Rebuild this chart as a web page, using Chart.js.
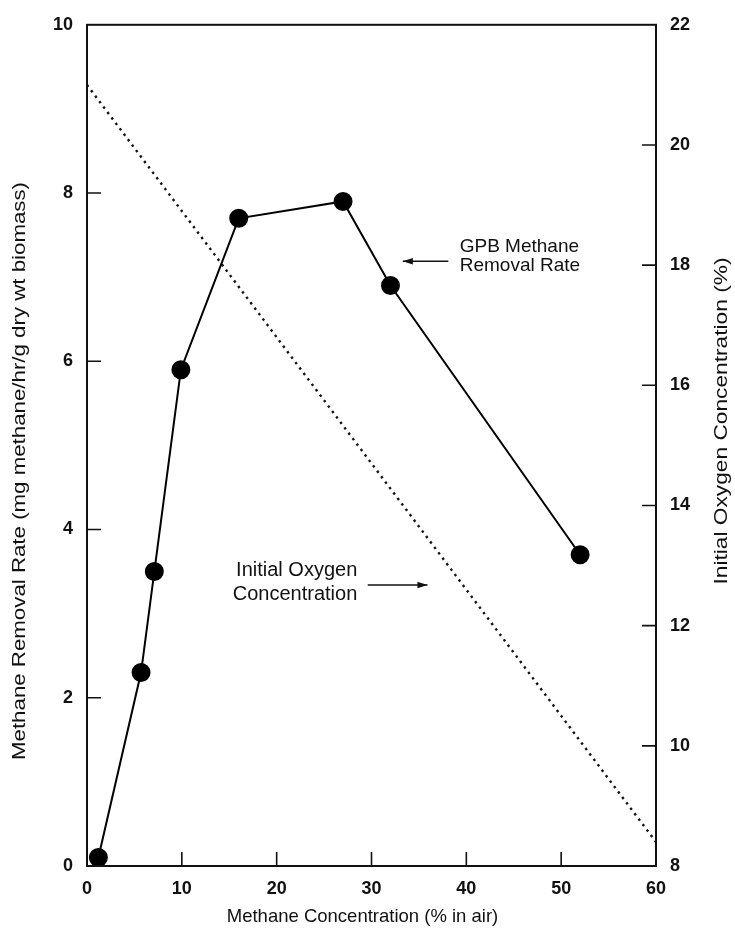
<!DOCTYPE html>
<html><head><meta charset="utf-8">
<script src="https://cdn.jsdelivr.net/npm/chart.js@4/dist/chart.umd.min.js"></script>
<style>html,body{margin:0;padding:0;background:#fff}#wrap{width:735px;height:936px}</style>
</head><body><div id="wrap"><canvas id="c" width="735" height="936"></canvas></div>
<script>
const methaneConc = [1.2, 5.7, 7.1, 9.9, 16.0, 27.0, 32.0, 52.0];
const removalRate = [0.1, 2.3, 3.5, 5.9, 7.7, 7.9, 6.9, 3.7];
const oxygenX = [0, 60];
const oxygenY = [21.0, 8.4];
const xTicks = [0, 10, 20, 30, 40, 50, 60];
const yTicks = [0, 2, 4, 6, 8, 10];
const y2Ticks = [8, 10, 12, 14, 16, 18, 20, 22];
const xTitle = 'Methane Concentration (% in air)';
const yTitle = 'Methane Removal Rate (mg methane/hr/g dry wt biomass)';
const y2Title = 'Initial Oxygen Concentration (%)';
const gpbLabel = ["GPB Methane", "Removal Rate"];
const oxyLabel = ["Initial Oxygen", "Concentration"];

const FONT = "'Liberation Sans', Arial, Helvetica, sans-serif";

const framePlugin = {
  id: 'frame',
  afterDraw(chart) {
    const {ctx, chartArea: a, scales} = chart;
    ctx.save();
    ctx.strokeStyle = '#111';
    ctx.lineWidth = 2;
    ctx.strokeRect(a.left, a.top, a.right - a.left, a.bottom - a.top);
    ctx.lineWidth = 1.6;
    const L = 14;
    ctx.beginPath();
    xTicks.slice(1, -1).forEach(v => { const p = scales.x.getPixelForValue(v); ctx.moveTo(p, a.bottom); ctx.lineTo(p, a.bottom - L); });
    yTicks.slice(1, -1).forEach(v => { const p = scales.y.getPixelForValue(v); ctx.moveTo(a.left, p); ctx.lineTo(a.left + L, p); });
    y2Ticks.slice(1, -1).forEach(v => { const p = scales.y2.getPixelForValue(v); ctx.moveTo(a.right, p); ctx.lineTo(a.right - L, p); });
    ctx.stroke();

    ctx.fillStyle = '#111';
    ctx.textBaseline = 'middle';
    const X = v => scales.x.getPixelForValue(v), Y = v => scales.y.getPixelForValue(v);

    // axis titles
    ctx.font = '18.5px ' + FONT;
    ctx.textAlign = 'center';
    ctx.fillText(xTitle, (a.left + a.right) / 2 - 9, 917);
    function vtitle(text, cx, cy, len, ang) {
      ctx.save();
      ctx.font = '18.5px ' + FONT;
      const w = ctx.measureText(text).width;
      ctx.translate(cx, cy); ctx.rotate(ang); ctx.scale(len / w, 1);
      ctx.textAlign = 'center'; ctx.textBaseline = 'middle';
      ctx.fillText(text, 0, 0);
      ctx.restore();
    }
    vtitle(yTitle, 20, 471, 578, -Math.PI / 2);
    vtitle(y2Title, 722, 421, 327, -Math.PI / 2);

    // annotations
    ctx.font = '19px ' + FONT;
    ctx.textAlign = 'left';
    ctx.fillText(gpbLabel[0], X(39.3), Y(7.36));
    ctx.fillText(gpbLabel[1], X(39.3), Y(7.13));
    ctx.font = '20px ' + FONT;
    ctx.textAlign = 'right';
    ctx.fillText(oxyLabel[0], X(28.5), Y(3.51));
    ctx.fillText(oxyLabel[1], X(28.5), Y(3.23));
    function arrow(x1, x2, y) {
      const px1 = X(x1), px2 = X(x2), py = Y(y);
      ctx.beginPath(); ctx.lineWidth = 1.4;
      ctx.moveTo(px1, py); ctx.lineTo(px2, py); ctx.stroke();
      const dir = Math.sign(px2 - px1);
      ctx.beginPath();
      ctx.moveTo(px2, py); ctx.lineTo(px2 - dir * 10, py - 3.2); ctx.lineTo(px2 - dir * 10, py + 3.2); ctx.closePath(); ctx.fill();
    }
    arrow(38.1, 33.3, 7.19);
    arrow(29.6, 35.9, 3.34);
    ctx.restore();
  }
};

const tickFont = {family: FONT, size: 18, weight: 'bold'};

new Chart(document.getElementById('c'), {
  type: 'scatter',
  data: {
    datasets: [
      {
        data: methaneConc.map((x, i) => ({x, y: removalRate[i]})),
        yAxisID: 'y', showLine: true, borderColor: '#000', backgroundColor: '#000',
        borderWidth: 2, pointRadius: 8.5, pointHoverRadius: 8.5, tension: 0
      },
      {
        data: oxygenX.map((x, i) => ({x, y: oxygenY[i]})),
        yAxisID: 'y2', showLine: true, borderColor: '#111', borderWidth: 2.4,
        borderDash: [2.4, 4.4], pointRadius: 0, tension: 0
      }
    ]
  },
  options: {
    responsive: false, animation: false,
    layout: {padding: {top: 22, left: 0, right: 0, bottom: 0}},
    plugins: {legend: {display: false}, tooltip: {enabled: false}},
    scales: {
      x: {
        type: 'linear', min: 0, max: 60,
        afterBuildTicks: s => { s.ticks = xTicks.map(v => ({value: v})); },
        afterFit: s => { s.height = 70; },
        grid: {display: false, drawTicks: false}, border: {display: false},
        ticks: {font: tickFont, color: '#111', padding: 12, maxRotation: 0},
        title: {display: false}
      },
      y: {
        type: 'linear', position: 'left', min: 0, max: 10,
        afterBuildTicks: s => { s.ticks = yTicks.map(v => ({value: v})); },
        afterFit: s => { s.width = 87; },
        grid: {display: false, drawTicks: false}, border: {display: false},
        ticks: {font: tickFont, color: '#111', padding: 14},
        title: {display: false}
      },
      y2: {
        type: 'linear', position: 'right', min: 8, max: 22,
        afterBuildTicks: s => { s.ticks = y2Ticks.map(v => ({value: v})); },
        afterFit: s => { s.width = 79; },
        grid: {display: false, drawTicks: false}, border: {display: false},
        ticks: {font: tickFont, color: '#111', padding: 14},
        title: {display: false}
      }
    }
  },
  plugins: [framePlugin]
});
</script></body></html>
